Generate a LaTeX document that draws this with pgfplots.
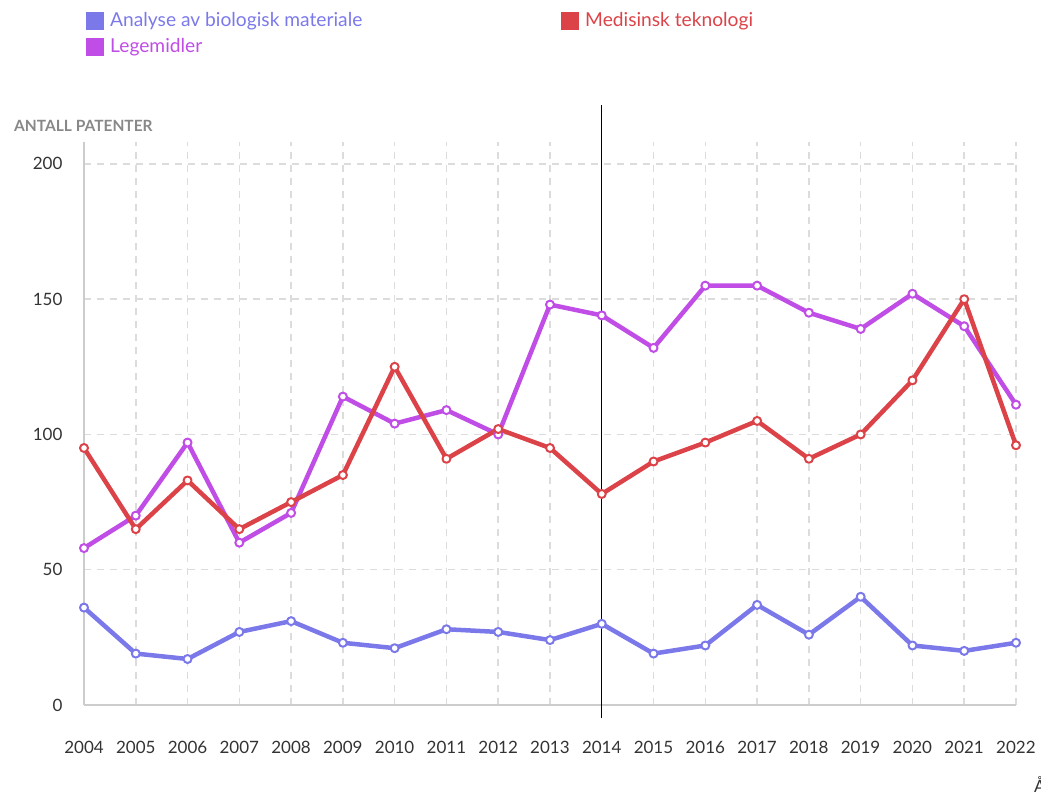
\documentclass[border=0pt]{standalone}
\usepackage{fontspec}
\setmainfont{Lato}
\usepackage{pgfplots}
\pgfplotsset{compat=1.18}
\definecolor{cblue}{HTML}{7B79EA}
\definecolor{cpurple}{HTML}{C04DE6}
\definecolor{cred}{HTML}{DC4348}
\definecolor{cgrid}{HTML}{DCDCDC}
\definecolor{caxis}{HTML}{CCCCCC}
\definecolor{ctext}{HTML}{333333}
\definecolor{ctitle}{HTML}{888888}
\begin{document}
\begin{tikzpicture}
\useasboundingbox (0pt,0pt) rectangle (1041pt,797pt);
% legend
\fill[cblue] (86pt,767pt) rectangle (104pt,785pt);
\node[anchor=west,text=cblue,inner sep=0pt,font=\fontsize{19.2}{21}\selectfont] at (110pt,776pt) {Analyse av biologisk materiale};
\fill[cred] (561pt,767pt) rectangle (579pt,785pt);
\node[anchor=west,text=cred,inner sep=0pt,font=\fontsize{19.2}{21}\selectfont] at (585pt,776pt) {Medisinsk teknologi};
\fill[cpurple] (86pt,741pt) rectangle (104pt,759pt);
\node[anchor=west,text=cpurple,inner sep=0pt,font=\fontsize{19.2}{21}\selectfont] at (110pt,750pt) {Legemidler};
\node[anchor=west,text=ctitle,inner sep=0pt,font=\fontsize{15.5}{17}\selectfont\bfseries] at (14pt,671pt) {ANTALL PATENTER};
\node[anchor=west,text=ctext,inner sep=0pt,font=\fontsize{17}{20}\selectfont] at (1034pt,12pt) {År};
\begin{axis}[
  at={(84pt,92pt)}, anchor=south west,
  scale only axis, width=932pt, height=563pt,
  xmin=2004, xmax=2022, ymin=0, ymax=208.1,
  enlarge x limits=false, enlarge y limits=false,
  axis x line*=bottom, axis y line*=left,
  axis line style={caxis, line width=2pt, -},
  xtick={2004,...,2022}, ytick={0,50,100,150,200},
  x tick label style={/pgf/number format/1000 sep={}},
  /pgf/number format/assume math mode=true,
  major tick length=0pt,
  grid=major,
  major grid style={cgrid, line width=1.5pt, dash pattern=on 7pt off 6pt},
  tick label style={text=ctext, font=\fontsize{17}{20}\selectfont},
  xticklabel style={yshift=-33pt},
  yticklabel style={xshift=-18pt},
  clip=false,
]
\addplot[cblue, line width=4.5pt, line join=round, mark=*, mark size=4pt, mark options={fill=white, draw=cblue, line width=2pt}] coordinates {
(2004,36)(2005,19)(2006,17)(2007,27)(2008,31)(2009,23)(2010,21)(2011,28)(2012,27)(2013,24)(2014,30)(2015,19)(2016,22)(2017,37)(2018,26)(2019,40)(2020,22)(2021,20)(2022,23)};
\addplot[cpurple, line width=4.5pt, line join=round, mark=*, mark size=4pt, mark options={fill=white, draw=cpurple, line width=2pt}] coordinates {
(2004,58)(2005,70)(2006,97)(2007,60)(2008,71)(2009,114)(2010,104)(2011,109)(2012,100)(2013,148)(2014,144)(2015,132)(2016,155)(2017,155)(2018,145)(2019,139)(2020,152)(2021,140)(2022,111)};
\addplot[cred, line width=4.5pt, line join=round, mark=*, mark size=4pt, mark options={fill=white, draw=cred, line width=2pt}] coordinates {
(2004,95)(2005,65)(2006,83)(2007,65)(2008,75)(2009,85)(2010,125)(2011,91)(2012,102)(2013,95)(2014,78)(2015,90)(2016,97)(2017,105)(2018,91)(2019,100)(2020,120)(2021,150)(2022,96)};
\draw[black, line width=1pt] (axis cs:2014,-4.8) -- (axis cs:2014,221.8);
\end{axis}
\end{tikzpicture}
\end{document}
